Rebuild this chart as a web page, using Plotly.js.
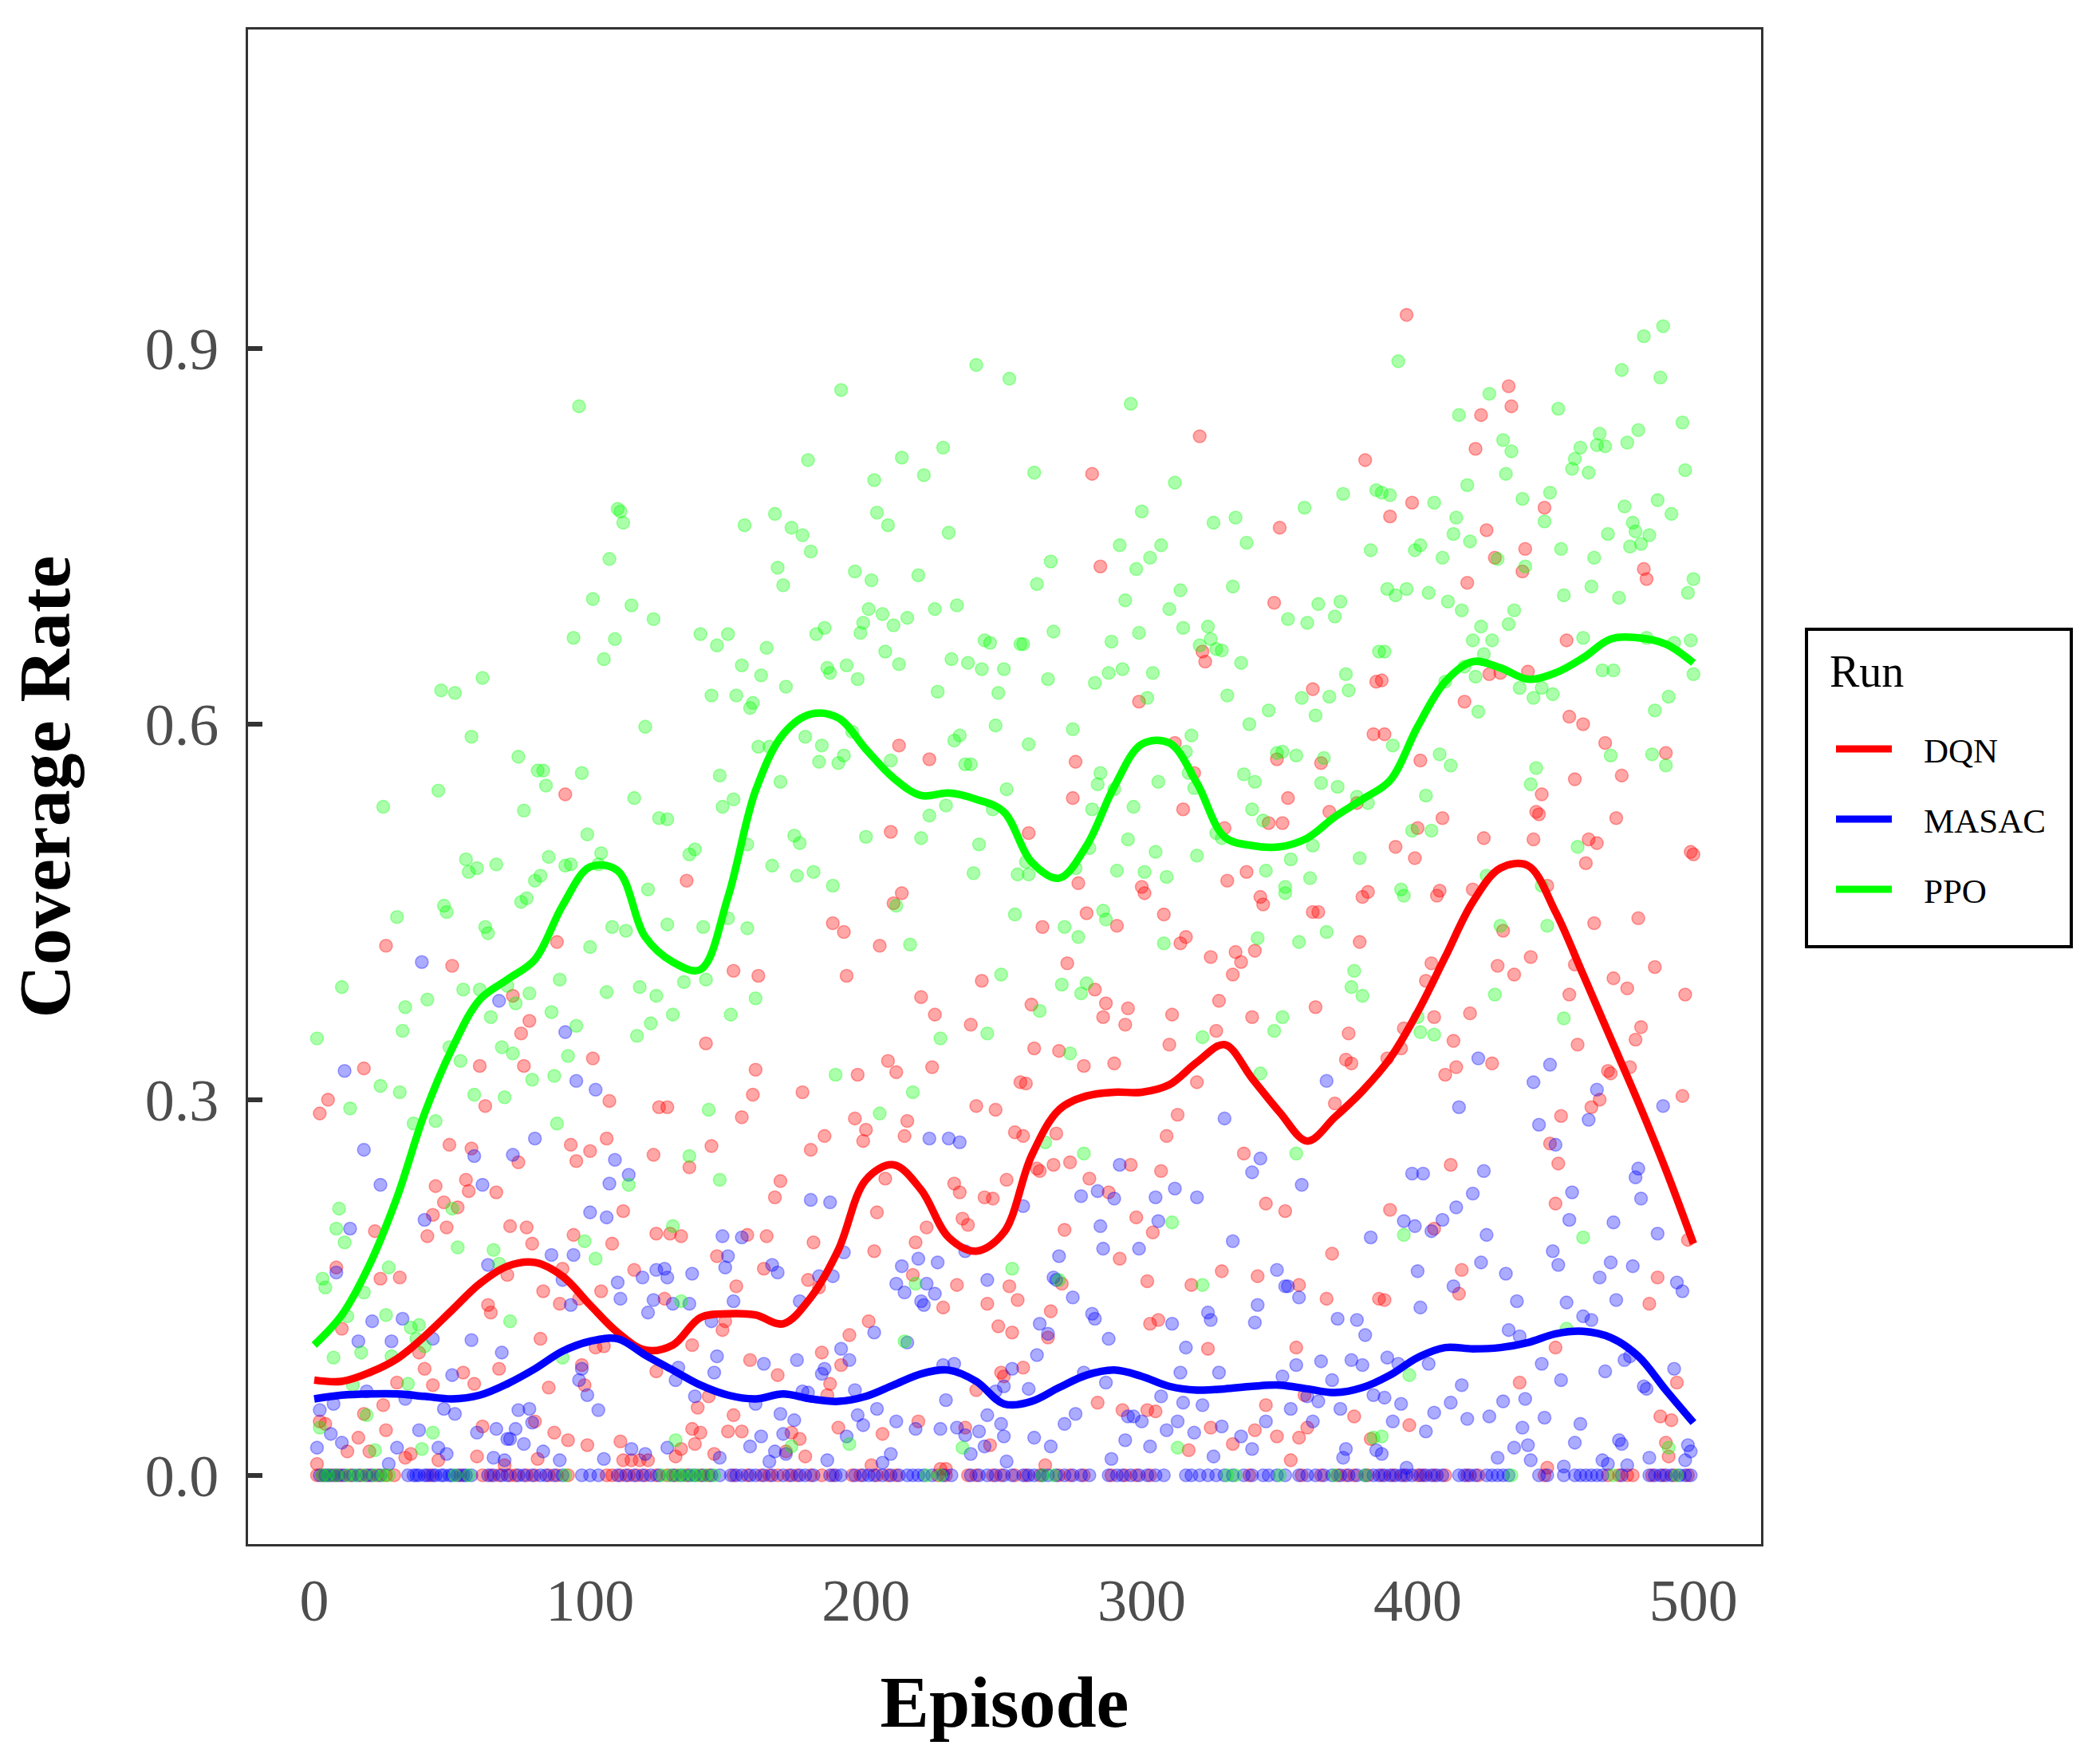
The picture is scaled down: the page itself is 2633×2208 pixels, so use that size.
<!DOCTYPE html>
<html>
<head>
<meta charset="utf-8">
<script src="https://cdn.plot.ly/plotly-3.0.1.min.js"></script>
<style>
  html, body { margin: 0; padding: 0; background: #fff; }
  #chart { width: 2633px; height: 2208px; }
</style>
</head>
<body>
<div id="chart"></div>
<script>
// per-episode coverage rate as [episode, value]
var dqnPts = [
  [2,0.289],[5,0.30],[18,0.325],[26,0.423],[50,0.407],[88,0.426],[91,0.544],[72,0.383],[78,0.363],[75,0.353],
  [76,0.327],[60,0.327],[62,0.295],[101,0.333],[107,0.299],[125,0.294],[49,0.264],[57,0.261],[74,0.25],[93,0.264],
  [100,0.259],[95,0.251],[106,0.269],[123,0.256],[55,0.236],[56,0.227],[66,0.226],[44,0.231],[47,0.218],[52,0.214],
  [43,0.208],[48,0.198],[41,0.191],[22,0.195],[71,0.199],[77,0.198],[79,0.185],[94,0.192],[108,0.185],[112,0.211],
  [124,0.193],[8,0.166],[24,0.157],[31,0.158],[90,0.165],[116,0.164],[83,0.147],[89,0.137],[96,0.141],[104,0.147],
  [63,0.136],[64,0.13],[70,0.16],[10,0.117],[82,0.109],[38,0.098],[102,0.102],[105,0.103],[40,0.085],[43,0.072],
  [54,0.082],[58,0.073],[67,0.085],[30,0.074],[85,0.07],[97,0.088],[98,0.072],[124,0.083],[2,0.043],[4,0.041],
  [18,0.049],[25,0.056],[16,0.03],[26,0.036],[61,0.039],[80,0.043],[87,0.034],[92,0.028],[99,0.024],[111,0.027],
  [12,0.019],[20,0.019],[35,0.017],[33,0.014],[45,0.012],[1,0.009],[59,0.015],[81,0.013],[69,0.008],[112,0.012],
  [115,0.012],[118,0.012],[121,0.012],
  [212,0.583],[223,0.572],[209,0.514],[135,0.475],[213,0.465],[188,0.441],[192,0.434],[205,0.423],[210,0.457],[152,0.403],
  [161,0.399],[193,0.399],[242,0.395],[220,0.382],[225,0.368],[238,0.36],[142,0.345],[160,0.324],[208,0.331],[211,0.322],
  [224,0.326],[197,0.32],[177,0.306],[256,0.314],[159,0.304],[128,0.294],[155,0.286],[196,0.285],[200,0.276],[199,0.267],
  [215,0.283],[214,0.271],[240,0.295],[247,0.292],[254,0.274],[185,0.271],[180,0.26],[144,0.263],[136,0.246],[169,0.235],
  [167,0.222],[207,0.237],[232,0.233],[234,0.226],[251,0.236],[243,0.222],[246,0.221],[204,0.21],[235,0.205],[237,0.20],
  [222,0.198],[218,0.186],[181,0.186],[129,0.193],[133,0.191],[157,0.192],[164,0.191],[203,0.179],[146,0.175],[163,0.165],
  [217,0.16],[233,0.152],[252,0.151],[179,0.156],[183,0.15],[153,0.151],[255,0.14],[244,0.137],[228,0.134],[127,0.141],
  [149,0.123],[148,0.116],[201,0.123],[194,0.112],[248,0.119],[253,0.114],[137,0.104],[184,0.098],[158,0.092],[191,0.088],
  [168,0.08],[249,0.082],[250,0.079],[187,0.073],[186,0.064],[240,0.068],[143,0.063],[139,0.054],[152,0.048],[137,0.037],
  [140,0.034],[150,0.035],[155,0.035],[190,0.038],[206,0.033],[219,0.043],[236,0.038],[173,0.034],[176,0.029],[245,0.024],
  [138,0.025],[133,0.021],[131,0.015],[145,0.017],[178,0.015],[171,0.019],[202,0.008],[227,0.005],[229,0.005],
  [321,0.83],[282,0.80],[381,0.811],[350,0.757],[285,0.726],[348,0.697],[322,0.658],[323,0.65],[362,0.628],[385,0.634],
  [299,0.618],[384,0.592],[312,0.585],[276,0.57],[349,0.572],[365,0.569],[319,0.561],[275,0.541],[353,0.541],[315,0.532],
  [368,0.53],[378,0.537],[259,0.513],[346,0.521],[351,0.521],[330,0.517],[277,0.473],[300,0.47],[331,0.475],[338,0.482],
  [382,0.466],[343,0.462],[301,0.465],[344,0.456],[380,0.462],[280,0.449],[308,0.448],[362,0.45],[364,0.45],[264,0.438],
  [291,0.439],[314,0.425],[316,0.43],[325,0.414],[334,0.418],[336,0.41],[341,0.419],[379,0.426],[333,0.40],[273,0.409],
  [283,0.388],[260,0.376],[287,0.377],[286,0.366],[295,0.373],[294,0.36],[311,0.368],[328,0.379],[340,0.366],[363,0.374],
  [375,0.353],[327,0.355],[310,0.344],[261,0.341],[270,0.339],[279,0.327],[290,0.329],[374,0.332],[376,0.329],[258,0.313],
  [320,0.314],[313,0.288],[370,0.297],[257,0.271],[269,0.273],[309,0.271],[262,0.245],[263,0.243],[268,0.248],[274,0.25],
  [296,0.248],[307,0.243],[337,0.257],[281,0.237],[288,0.226],[345,0.217],[352,0.211],[298,0.206],[304,0.194],[272,0.196],
  [292,0.173],[369,0.177],[329,0.163],[342,0.159],[302,0.155],[318,0.152],[357,0.152],[271,0.153],[367,0.141],[386,0.141],
  [267,0.131],[266,0.11],[303,0.121],[306,0.124],[324,0.101],[356,0.102],[257,0.086],[284,0.058],[293,0.052],[302,0.052],
  [305,0.051],[345,0.056],[359,0.064],[377,0.047],[325,0.038],[341,0.036],[349,0.031],[357,0.03],[360,0.038],[333,0.025],
  [317,0.02],[383,0.029],[354,0.012],[265,0.008],
  [396,0.927],[433,0.87],[434,0.854],[423,0.847],[421,0.82],[398,0.777],[390,0.766],[446,0.773],[425,0.755],[439,0.74],
  [428,0.733],[438,0.722],[418,0.713],[482,0.724],[483,0.716],[454,0.667],[387,0.635],[426,0.64],[430,0.641],[440,0.642],
  [417,0.618],[455,0.606],[460,0.60],[388,0.592],[468,0.585],[490,0.577],[401,0.571],[457,0.556],[474,0.559],[445,0.544],
  [443,0.53],[444,0.528],[472,0.525],[409,0.525],[400,0.517],[392,0.502],[399,0.493],[424,0.509],[442,0.508],[462,0.508],
  [465,0.505],[461,0.489],[499,0.498],[500,0.496],[408,0.467],[420,0.468],[447,0.471],[407,0.463],[464,0.441],[480,0.445],
  [431,0.435],[405,0.409],[403,0.395],[429,0.407],[435,0.40],[441,0.414],[457,0.408],[486,0.406],[471,0.397],[476,0.389],
  [455,0.384],[497,0.384],[406,0.366],[419,0.369],[395,0.357],[394,0.341],[413,0.347],[481,0.358],[479,0.348],[458,0.344],
  [389,0.333],[414,0.326],[410,0.32],[427,0.329],[469,0.323],[470,0.321],[477,0.326],[496,0.303],[466,0.30],[463,0.294],
  [452,0.287],[448,0.265],[451,0.249],[412,0.248],[390,0.212],[450,0.217],[406,0.197],[498,0.188],[416,0.164],[487,0.158],
  [415,0.145],[388,0.14],[484,0.137],[450,0.102],[437,0.074],[494,0.074],[397,0.04],[488,0.047],[492,0.044],[490,0.026],
  [491,0.015],[447,0.006]
];
var dqnZeros = [1,3,6,8,10,13,17,20,23,26,29,42,53,61,64,67,71,73,77,80,85,88,92,106,108,111,114,117,120,124,
  128,131,135,140,143,152,157,162,165,168,172,175,180,184,188,195,198,204,208,211,226,229,237,240,246,249,254,
  258,263,270,274,279,289,294,298,303,339,358,365,371,374,377,382,
  387,391,395,400,402,406,410,418,422,446,469,473,476,478,485,489,493,498];

var masacPts = [
  [39,0.41],[67,0.379],[91,0.354],[11,0.323],[95,0.315],[102,0.308],[18,0.26],[80,0.269],[58,0.255],[72,0.256],
  [109,0.252],[114,0.24],[107,0.233],[24,0.232],[61,0.232],[100,0.21],[106,0.206],[40,0.204],[13,0.197],[8,0.162],
  [63,0.168],[86,0.176],[94,0.176],[110,0.154],[111,0.141],[119,0.158],[124,0.164],[121,0.13],[123,0.14],[93,0.136],
  [90,0.156],[21,0.123],[32,0.125],[16,0.107],[28,0.107],[43,0.109],[57,0.108],[68,0.098],[97,0.085],[96,0.076],
  [99,0.064],[103,0.052],[50,0.08],[19,0.067],[7,0.057],[33,0.061],[2,0.052],[47,0.053],[51,0.049],[74,0.052],
  [78,0.053],[79,0.042],[6,0.033],[10,0.026],[1,0.022],[38,0.036],[59,0.034],[66,0.037],[70,0.029],[73,0.037],
  [71,0.029],[76,0.025],[30,0.022],[45,0.022],[48,0.017],[83,0.019],[105,0.013],[115,0.021],[120,0.017],[89,0.012],
  [65,0.014],[69,0.012],[27,0.009],
  [223,0.269],[230,0.269],[234,0.266],[180,0.22],[187,0.218],[148,0.191],[155,0.19],[150,0.175],[149,0.166],[192,0.178],
  [219,0.173],[236,0.179],[226,0.17],[213,0.167],[166,0.168],[168,0.162],[127,0.165],[128,0.158],[137,0.161],[183,0.159],
  [188,0.159],[244,0.156],[211,0.153],[214,0.146],[222,0.153],[225,0.145],[220,0.139],[221,0.136],[152,0.139],[176,0.139],
  [130,0.137],[136,0.137],[144,0.123],[203,0.114],[215,0.106],[191,0.101],[194,0.092],[146,0.095],[132,0.086],[145,0.082],
  [163,0.089],[175,0.092],[185,0.085],[184,0.081],[232,0.089],[228,0.088],[253,0.085],[250,0.071],[247,0.067],[131,0.076],
  [138,0.063],[177,0.067],[179,0.066],[196,0.068],[160,0.057],[229,0.06],[204,0.053],[169,0.049],[174,0.044],[197,0.048],
  [199,0.04],[211,0.043],[244,0.048],[249,0.041],[218,0.037],[227,0.037],[233,0.038],[236,0.032],[241,0.035],[250,0.031],
  [162,0.031],[170,0.033],[193,0.031],[158,0.023],[243,0.023],[167,0.019],[171,0.017],[209,0.017],[238,0.017],[147,0.014],
  [186,0.012],[206,0.01],[165,0.011],[251,0.011],[128,0.022],
  [367,0.315],[330,0.285],[343,0.253],[340,0.242],[358,0.232],[292,0.248],[312,0.229],[284,0.227],[290,0.221],[278,0.223],
  [305,0.222],[320,0.222],[257,0.215],[306,0.203],[285,0.199],[383,0.19],[333,0.187],[286,0.181],[299,0.181],[270,0.175],
  [349,0.164],[268,0.158],[269,0.156],[352,0.151],[353,0.151],[357,0.142],[275,0.142],[342,0.136],[324,0.13],[325,0.124],
  [282,0.129],[283,0.125],[341,0.122],[263,0.121],[266,0.113],[311,0.121],[371,0.125],[378,0.124],[381,0.112],[288,0.109],
  [316,0.102],[262,0.096],[356,0.088],[365,0.091],[376,0.092],[380,0.088],[279,0.082],[314,0.082],[328,0.082],[351,0.079],
  [369,0.076],[259,0.069],[287,0.074],[307,0.063],[360,0.063],[384,0.064],[315,0.058],[322,0.056],[364,0.059],[354,0.053],
  [372,0.053],[276,0.049],[295,0.047],[297,0.047],[300,0.043],[272,0.041],[313,0.043],[309,0.036],[319,0.034],[329,0.039],
  [345,0.043],[362,0.043],[261,0.03],[294,0.028],[336,0.031],[267,0.023],[303,0.023],[340,0.021],[326,0.015],[374,0.021],
  [373,0.014],[289,0.013],[385,0.02],
  [422,0.333],[448,0.328],[442,0.314],[465,0.308],[462,0.284],[489,0.295],[415,0.294],[444,0.28],[450,0.264],[398,0.241],
  [402,0.241],[424,0.243],[480,0.245],[479,0.238],[420,0.225],[414,0.214],[456,0.226],[481,0.221],[395,0.203],[399,0.199],
  [409,0.204],[405,0.195],[455,0.204],[471,0.202],[425,0.192],[487,0.193],[449,0.179],[451,0.168],[400,0.163],[423,0.17],
  [432,0.161],[470,0.17],[478,0.167],[466,0.158],[494,0.154],[496,0.147],[413,0.151],[401,0.134],[436,0.139],[454,0.138],
  [472,0.14],[460,0.127],[463,0.124],[433,0.116],[437,0.111],[389,0.094],[393,0.089],[404,0.089],[445,0.089],[475,0.092],
  [477,0.095],[468,0.083],[493,0.085],[452,0.076],[416,0.072],[482,0.071],[483,0.069],[388,0.062],[394,0.057],[412,0.058],
  [431,0.059],[439,0.061],[406,0.05],[391,0.043],[403,0.035],[418,0.045],[426,0.047],[446,0.046],[459,0.041],[438,0.038],
  [457,0.026],[473,0.028],[474,0.025],[435,0.022],[440,0.024],[498,0.024],[499,0.019],[387,0.017],[429,0.014],[441,0.012],
  [484,0.014],[497,0.012],[467,0.012],[469,0.009],[453,0.007],[476,0.008],[396,0.006]
];
var masacZeros = [2,4,5,7,9,11,14,16,19,21,24,34,36,37,38,40,41,43,44,46,47,49,50,52,54,55,57,63,65,68,70,74,76,79,82,84,87,90,97,100,103,110,113,116,119,122,125,
  130,133,136,138,141,144,147,151,153,155,158,160,163,166,170,173,176,178,181,187,189,191,196,199,201,203,206,209,212,215,217,219,221,224,228,231,238,241,244,247,250,253,
  257,259,261,264,266,269,272,275,278,281,288,291,293,296,299,302,305,308,316,318,321,324,327,330,333,337,340,344,346,349,352,357,360,363,366,369,372,375,378,381,384,
  386,388,390,392,394,396,398,401,403,405,407,409,415,417,419,421,425,427,429,431,433,444,447,453,457,459,461,463,465,467,474,484,486,488,490,492,495,497,499];

var ppoPts = [
  [96,0.854],[110,0.772],[111,0.77],[112,0.761],[107,0.732],[101,0.70],[115,0.695],[123,0.684],[94,0.669],[109,0.668],
  [105,0.652],[61,0.637],[46,0.627],[51,0.625],[120,0.598],[57,0.59],[74,0.574],[81,0.563],[83,0.563],[97,0.561],
  [84,0.551],[45,0.547],[25,0.534],[76,0.531],[116,0.541],[125,0.525],[99,0.512],[55,0.492],[56,0.482],[59,0.485],
  [66,0.488],[85,0.494],[91,0.487],[93,0.488],[104,0.497],[103,0.488],[82,0.479],[80,0.475],[77,0.461],[121,0.468],
  [47,0.455],[75,0.458],[30,0.446],[48,0.45],[62,0.438],[63,0.433],[108,0.438],[113,0.435],[100,0.422],[10,0.39],
  [33,0.374],[41,0.38],[54,0.388],[60,0.388],[70,0.391],[78,0.385],[73,0.377],[89,0.396],[106,0.386],[118,0.39],
  [124,0.383],[32,0.355],[1,0.349],[64,0.366],[86,0.37],[95,0.359],[122,0.361],[117,0.351],[49,0.342],[53,0.331],
  [68,0.342],[72,0.337],[92,0.335],[79,0.316],[87,0.319],[24,0.311],[31,0.306],[13,0.293],[58,0.304],[69,0.302],
  [36,0.281],[44,0.283],[88,0.281],[114,0.232],[9,0.213],[8,0.197],[11,0.186],[50,0.213],[52,0.182],[65,0.18],
  [67,0.169],[98,0.187],[102,0.173],[27,0.166],[3,0.157],[4,0.15],[18,0.146],[12,0.127],[26,0.128],[35,0.118],
  [38,0.12],[37,0.109],[40,0.103],[28,0.095],[7,0.094],[17,0.098],[71,0.123],[90,0.094],[34,0.073],[14,0.072],
  [2,0.038],[19,0.048],[43,0.034],[39,0.021],[22,0.02],
  [240,0.887],[252,0.876],[191,0.867],[179,0.811],[213,0.813],[228,0.821],[203,0.795],[221,0.799],[204,0.769],[208,0.759],
  [230,0.753],[167,0.768],[156,0.759],[173,0.757],[177,0.751],[180,0.738],[168,0.725],[170,0.711],[196,0.722],[202,0.715],
  [219,0.719],[201,0.692],[206,0.688],[210,0.679],[215,0.685],[199,0.681],[198,0.673],[225,0.692],[233,0.695],[185,0.677],
  [182,0.672],[140,0.672],[150,0.672],[146,0.663],[164,0.661],[243,0.667],[245,0.665],[256,0.664],[207,0.658],[212,0.648],
  [231,0.652],[237,0.649],[242,0.644],[250,0.644],[155,0.647],[162,0.639],[186,0.645],[187,0.641],[193,0.647],[197,0.636],
  [171,0.63],[144,0.623],[153,0.623],[226,0.626],[248,0.625],[159,0.617],[158,0.613],[178,0.59],[161,0.582],[165,0.582],
  [184,0.583],[195,0.594],[247,0.599],[232,0.587],[234,0.591],[183,0.57],[190,0.569],[192,0.575],[209,0.571],[236,0.568],
  [238,0.568],[147,0.559],[169,0.554],[152,0.54],[148,0.534],[128,0.524],[251,0.548],[229,0.535],[223,0.527],[246,0.532],
  [138,0.5],[136,0.496],[157,0.504],[174,0.511],[176,0.505],[200,0.51],[220,0.509],[241,0.504],[166,0.487],[175,0.479],
  [181,0.482],[188,0.471],[239,0.481],[255,0.48],
  [128,0.44],[141,0.438],[150,0.445],[157,0.437],[134,0.394],[142,0.396],[160,0.381],[130,0.368],[151,0.368],[216,0.424],
  [211,0.455],[254,0.448],[249,0.40],[227,0.349],[244,0.353],[189,0.32],[217,0.306],[205,0.289],[143,0.292],[136,0.255],
  [147,0.236],[130,0.199],[133,0.139],[218,0.153],[253,0.165],[214,0.107],[131,0.028],[173,0.023],[194,0.025],[235,0.022],
  [296,0.856],[261,0.801],[312,0.793],[300,0.77],[326,0.761],[334,0.765],[338,0.745],[359,0.773],[373,0.784],[385,0.787],
  [383,0.739],[292,0.743],[307,0.743],[303,0.733],[298,0.724],[267,0.73],[262,0.712],[294,0.699],[314,0.707],[310,0.692],
  [333,0.71],[353,0.684],[360,0.681],[364,0.696],[370,0.686],[372,0.698],[268,0.674],[257,0.664],[289,0.666],[299,0.673],
  [315,0.677],[324,0.678],[325,0.668],[321,0.663],[327,0.66],[329,0.659],[336,0.649],[386,0.658],[266,0.636],[283,0.633],
  [288,0.641],[293,0.644],[304,0.641],[302,0.621],[331,0.623],[374,0.64],[375,0.627],[358,0.621],[368,0.622],[363,0.607],
  [346,0.611],[339,0.60],[275,0.596],[259,0.584],[318,0.591],[316,0.578],[349,0.577],[351,0.578],[356,0.575],[366,0.573],
  [285,0.561],[284,0.552],[290,0.548],[306,0.554],[317,0.561],[319,0.549],[337,0.56],[341,0.554],[365,0.553],[371,0.55],
  [378,0.542],[382,0.537],[282,0.532],[297,0.534],[340,0.532],[344,0.523],[327,0.513],[329,0.509],[295,0.508],[281,0.501],
  [258,0.49],[259,0.48],[276,0.485],[291,0.483],[301,0.482],[305,0.498],[309,0.478],[320,0.495],[345,0.483],[352,0.47],
  [354,0.492],[361,0.477],[362,0.503],[379,0.493],
  [286,0.451],[287,0.444],[272,0.438],[277,0.43],[308,0.425],[342,0.429],[357,0.426],[367,0.434],[352,0.465],[271,0.392],
  [280,0.393],[278,0.385],[263,0.371],[377,0.403],[376,0.39],[380,0.383],[351,0.366],[348,0.355],[322,0.35],[274,0.337],
  [343,0.321],[265,0.266],[279,0.257],[356,0.257],[311,0.202],[270,0.156],[322,0.152],[313,0.022],[384,0.03],
  [489,0.918],[482,0.91],[393,0.89],[474,0.883],[488,0.877],[426,0.864],[415,0.847],[451,0.852],[496,0.841],[480,0.835],
  [476,0.825],[466,0.832],[465,0.823],[468,0.822],[459,0.821],[457,0.812],[456,0.804],[462,0.801],[431,0.827],[434,0.818],
  [432,0.80],[497,0.803],[418,0.791],[387,0.785],[390,0.783],[406,0.777],[438,0.78],[448,0.785],[446,0.762],[475,0.774],
  [487,0.779],[492,0.768],[414,0.765],[413,0.752],[419,0.746],[399,0.739],[401,0.743],[409,0.733],[429,0.732],[439,0.726],
  [452,0.74],[469,0.752],[478,0.761],[479,0.754],[484,0.751],[477,0.742],[481,0.744],[464,0.733],[500,0.716],[498,0.705],
  [389,0.708],[392,0.703],[396,0.708],[404,0.705],[411,0.698],[416,0.691],[453,0.703],[463,0.71],[473,0.701],[435,0.691],
  [433,0.68],[423,0.678],[420,0.667],[427,0.667],[388,0.658],[460,0.669],[499,0.667],[493,0.665],[483,0.669],[424,0.656],
  [417,0.646],[421,0.638],[410,0.634],[437,0.629],[442,0.621],[445,0.629],[449,0.624],[467,0.643],[471,0.643],[500,0.64],
  [491,0.622],[486,0.611],[422,0.61],[391,0.583],[408,0.576],[412,0.567],[470,0.575],[485,0.576],[490,0.567],[443,0.565],
  [441,0.552],[403,0.543],[398,0.515],[405,0.515],[458,0.502],[425,0.479],[394,0.468],[445,0.471],
  [395,0.463],[430,0.439],[447,0.439],[428,0.384],[453,0.365],[401,0.354],[406,0.352],[400,0.366],[395,0.192],[460,0.19],
  [454,0.117],[397,0.08],[491,0.022],[387,0.031]
];
var ppoZeros = [3,5,8,12,15,18,22,25,27,51,56,91,126,129,132,134,137,139,142,145,222,227,
  264,268,331,334,350,370,381,434,471,494];

// smoothed trend, read every 10 episodes
var smoothEp = [0,10,20,30,40,50,60,70,80,90,100,110,120,130,140,150,160,170,180,190,200,
  210,220,230,240,250,260,270,280,290,300,310,320,330,340,350,360,370,380,390,400,
  410,420,430,440,450,460,470,480,490,500];
var dqnSmooth = [0.076,0.075,0.082,0.093,0.111,0.132,0.153,0.167,0.170,0.159,0.136,
  0.114,0.100,0.104,0.126,0.129,0.128,0.121,0.142,0.180,0.236,
  0.248,0.228,0.190,0.179,0.194,0.255,0.292,0.303,0.306,0.306,
  0.312,0.330,0.344,0.317,0.290,0.267,0.286,0.307,0.333,0.370,
  0.414,0.458,0.485,0.487,0.450,0.400,0.349,0.298,0.244,0.185];
var masacSmooth = [0.061,0.064,0.065,0.065,0.063,0.061,0.064,0.073,0.085,0.099,0.107,
  0.109,0.096,0.084,0.072,0.064,0.061,0.065,0.061,0.059,0.063,
  0.072,0.081,0.084,0.075,0.057,0.059,0.070,0.080,0.084,0.079,
  0.071,0.068,0.069,0.071,0.072,0.069,0.066,0.070,0.080,0.094,
  0.102,0.101,0.102,0.106,0.113,0.115,0.110,0.095,0.068,0.042];
var ppoSmooth = [0.104,0.128,0.168,0.222,0.289,0.341,0.380,0.396,0.412,0.455,0.486,
  0.483,0.430,0.410,0.404,0.462,0.547,0.592,0.608,0.605,0.580,
  0.557,0.543,0.545,0.540,0.530,0.490,0.477,0.503,0.550,0.584,
  0.585,0.553,0.510,0.503,0.502,0.509,0.526,0.540,0.555,0.598,
  0.634,0.650,0.645,0.636,0.641,0.653,0.668,0.669,0.664,0.649];

var runs = ["DQN", "MASAC", "PPO"];
var runColors = ["#FF0000", "#0000FF", "#00FF00"];
var pointFill = ["rgba(255,0,0,0.35)", "rgba(0,0,255,0.33)", "rgba(0,255,0,0.33)"];

function unpack(rows, i) {
  return rows.map(function(row) { return row[i]; });
}

function withZeros(pts, zeros) {
  return pts.concat(zeros.map(function(ep) { return [ep, 0]; }));
}

var allPts = [withZeros(dqnPts, dqnZeros), withZeros(masacPts, masacZeros), withZeros(ppoPts, ppoZeros)];
var smooths = [dqnSmooth, masacSmooth, ppoSmooth];

var serif = "Liberation Serif, Times New Roman, serif";
var data = [];

runs.forEach(function(name, i) {
  data.push({
    type: 'scatter',
    mode: 'markers',
    x: unpack(allPts[i], 0),
    y: unpack(allPts[i], 1),
    name: name,
    showlegend: false,
    hoverinfo: 'skip',
    marker: { size: 16, color: pointFill[i], line: { color: pointFill[i], width: 1.6 } }
  });
});

runs.forEach(function(name, i) {
  data.push({
    type: 'scatter',
    mode: 'lines',
    x: smoothEp,
    y: smooths[i],
    name: name,
    showlegend: false,
    line: { color: runColors[i], width: 9.5, shape: 'spline', smoothing: 1 }
  });
});

// legend box drawn by hand (ggplot style: long key lines, roomy spacing)
// plot area is 1897 x 1899 px, so paper units are converted from pixels
var plotW = 1897, plotH = 1899, plotL = 311, plotB = 1936;
function px(x) { return (x - plotL) / plotW; }
function py(y) { return (plotB - y) / plotH; }

var shapes = [{
  type: 'rect', xref: 'paper', yref: 'paper',
  x0: px(2265), x1: px(2597), y0: py(1187), y1: py(789),
  line: { color: '#000000', width: 4 }, fillcolor: 'rgba(0,0,0,0)'
}];
var annotations = [{
  xref: 'paper', yref: 'paper', x: px(2292), y: py(842),
  xanchor: 'left', yanchor: 'middle', showarrow: false,
  text: 'Run', font: { family: serif, size: 56, color: '#000000' }
}];
runs.forEach(function(name, i) {
  var rowY = 939 + i * 88;
  shapes.push({
    type: 'line', xref: 'paper', yref: 'paper',
    x0: px(2302), x1: px(2372), y0: py(rowY), y1: py(rowY),
    line: { color: runColors[i], width: 9 }
  });
  annotations.push({
    xref: 'paper', yref: 'paper', x: px(2410), y: py(rowY + 2),
    xanchor: 'left', yanchor: 'middle', showarrow: false,
    text: name, font: { family: serif, size: 43, color: '#000000' }
  });
});

var layout = {
  width: 2633,
  height: 2208,
  paper_bgcolor: '#FFFFFF',
  plot_bgcolor: '#FFFFFF',
  margin: { l: 311, r: 425, t: 37, b: 272 },
  font: { family: serif, color: '#000000' },
  showlegend: false,
  xaxis: {
    range: [-24, 524.5],
    tickvals: [0, 100, 200, 300, 400, 500],
    ticks: '',
    ticklabelstandoff: 4,
    tickfont: { family: serif, size: 74, color: '#4D4D4D' },
    showgrid: false,
    zeroline: false,
    showline: true,
    mirror: true,
    linecolor: '#333333',
    linewidth: 3,
    title: { text: 'Episode', standoff: 54, font: { family: serif, size: 92, color: '#000000', weight: 'bold' } }
  },
  yaxis: {
    range: [-0.055, 1.155],
    tickvals: [0, 0.3, 0.6, 0.9],
    ticktext: ['0.0', '0.3', '0.6', '0.9'],
    ticks: 'inside',
    ticklen: 18,
    tickwidth: 6,
    tickcolor: '#333333',
    ticklabelstandoff: 19,
    tickfont: { family: serif, size: 74, color: '#4D4D4D' },
    showgrid: false,
    zeroline: false,
    showline: true,
    mirror: true,
    linecolor: '#333333',
    linewidth: 3,
    title: { text: 'Coverage Rate', standoff: 64, font: { family: serif, size: 92, color: '#000000', weight: 'bold' } }
  },
  shapes: shapes,
  annotations: annotations
};

Plotly.newPlot('chart', data, layout, { staticPlot: true });
</script>
</body>
</html>
